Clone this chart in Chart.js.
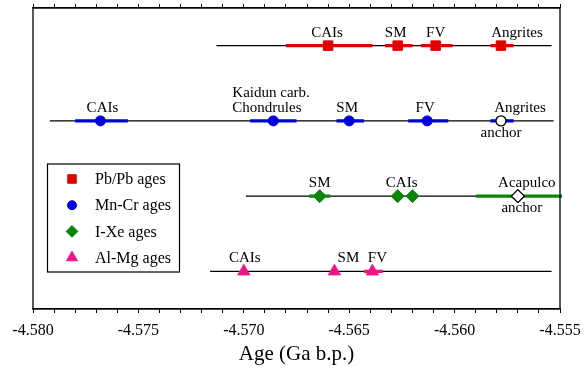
<!DOCTYPE html>
<html><head><meta charset="utf-8">
<script src="https://cdn.jsdelivr.net/npm/chart.js@4/dist/chart.umd.min.js"></script>
<style>html,body{margin:0;padding:0;background:#fff}#wrap{width:587px;height:369px}</style>
</head><body><div id="wrap"><canvas id="c" width="587" height="369"></canvas></div>
<script>
// ---------- data ----------
const seriesNames = ['Pb/Pb ages','Mn-Cr ages','I-Xe ages','Al-Mg ages'];
const rowCats = ['Pb/Pb','Mn-Cr','I-Xe','Al-Mg'];
const baseStart = [-4.5713,-4.5792,-4.5699,-4.5716];
const baseEnd   = [-4.5554,-4.5553,-4.5553,-4.5554];
const xMin = -4.580, xMax = -4.555, xMinorStep = 0.001;

const pbpbLabels = ['CAIs','SM','FV','Angrites'];
const pbpbAge    = [-4.5660,-4.5627,-4.5609,-4.5578];
const pbpbLow    = [-4.5680,-4.5633,-4.5616,-4.5583];
const pbpbHigh   = [-4.5639,-4.5620,-4.5601,-4.5572];
const pbpbAnchor = [false,false,false,false];

const mncrLabels = ['CAIs','Kaidun carb.\nChondrules','SM','FV','Angrites'];
const mncrAge    = [-4.5768,-4.5686,-4.5650,-4.5613,-4.5578];
const mncrLow    = [-4.5780,-4.5697,-4.5656,-4.5622,-4.5583];
const mncrHigh   = [-4.5755,-4.5675,-4.5643,-4.5603,-4.5572];
const mncrAnchor = [false,false,false,false,true];

const ixeLabels = ['SM','CAIs','','Acapulco'];
const ixeAge    = [-4.5664,-4.5627,-4.5620,-4.5570];
const ixeLow    = [-4.5669,null,null,-4.5590];
const ixeHigh   = [-4.5659,null,null,-4.5549];
const ixeAnchor = [false,false,false,true];

const almgLabels = ['CAIs','SM','FV'];
const almgAge    = [-4.5700,-4.5657,-4.5639];
const almgLow    = [null,null,-4.5643];
const almgHigh   = [null,null,-4.5634];
const almgAnchor = [false,false,false];

const anchorText = 'anchor';
const xTitle = 'Age (Ga b.p.)';

// ---------- styles ----------
const FONT = 'Liberation Serif';
const series = [
  {labels:pbpbLabels, age:pbpbAge, low:pbpbLow, high:pbpbHigh, anchor:pbpbAnchor},
  {labels:mncrLabels, age:mncrAge, low:mncrLow, high:mncrHigh, anchor:mncrAnchor},
  {labels:ixeLabels,  age:ixeAge,  low:ixeLow,  high:ixeHigh,  anchor:ixeAnchor},
  {labels:almgLabels, age:almgAge, low:almgLow, high:almgHigh, anchor:almgAnchor}
];
const styles = [
  {color:'#e00000', pointStyle:'rect',     radius:6.7, dx:[-1,-2,0,16],     align:null, anchorDx:0},
  {color:'#0000dd', pointStyle:'circle',   radius:5,   dx:[2,-41,-2,-2,19], align:['center','left','center','center','center'], anchorDx:0},
  {color:'#0a850a', pointStyle:'rectRot',  radius:6.5, dx:[0,4,0,9],        align:null, anchorDx:4},
  {color:'#f0138a', pointStyle:'triangle', radius:7,   dx:[1,14,5],         align:null, anchorDx:0}
];

// ---------- datasets ----------
const datasets = [];
series.forEach((s, i) => {
  const cat = rowCats[i], st = styles[i];
  datasets.push({
    data:[{x:baseStart[i], y:cat},{x:baseEnd[i], y:cat}],
    borderColor:'#000', borderWidth:1.3, pointRadius:0, showLine:true, order:3
  });
  s.age.forEach((a, j) => {
    if (s.low[j] === null) return;
    datasets.push({
      data:[{x:s.low[j], y:cat},{x:s.high[j], y:cat}],
      borderColor:st.color, borderWidth:3.3, pointRadius:0, showLine:true, order:2, clip:false
    });
  });
  datasets.push({
    label: seriesNames[i], seriesIndex:i, isMarker:true,
    data: s.age.map(a => ({x:a, y:cat})),
    showLine:false,
    pointStyle: st.pointStyle,
    pointRadius: st.radius,
    pointBackgroundColor: s.anchor.map(f => f ? '#ffffff' : st.color),
    pointBorderColor: s.anchor.map(f => f ? '#000000' : st.color),
    pointBorderWidth: s.anchor.map(f => f ? 1.4 : 1),
    order:0, clip:false
  });
});

// ---------- plugins ----------
const framePlugin = {
  id:'frame',
  afterDraw(chart){
    const {ctx, chartArea:a} = chart;
    ctx.save(); ctx.strokeStyle='#000'; ctx.lineWidth=1.3;
    ctx.strokeRect(a.left, a.top, a.right-a.left, a.bottom-a.top);
    ctx.restore();
  }
};
const labelPlugin = {
  id:'pointLabels',
  afterDatasetsDraw(chart){
    const ctx = chart.ctx;
    ctx.save();
    ctx.font = '15px "' + FONT + '"';
    ctx.fillStyle = '#000';
    ctx.textBaseline = 'alphabetic';
    chart.data.datasets.forEach((ds, di) => {
      if (!ds.isMarker) return;
      const s = series[ds.seriesIndex], st = styles[ds.seriesIndex];
      const meta = chart.getDatasetMeta(di);
      meta.data.forEach((pt, j) => {
        const txt = s.labels[j];
        const align = st.align ? st.align[j] : 'center';
        ctx.textAlign = align;
        if (txt) {
          const lines = txt.split('\n');
          lines.forEach((ln, k) => {
            const y = pt.y - 9 - (lines.length-1-k)*15;
            ctx.fillText(ln, pt.x + st.dx[j], y);
          });
        }
        if (s.anchor[j]) {
          ctx.textAlign = 'center';
          ctx.fillText(anchorText, pt.x + st.anchorDx, pt.y + 16);
        }
      });
    });
    ctx.restore();
  }
};
const legendPlugin = {
  id:'boxLegend',
  afterDraw(chart){
    const ctx = chart.ctx;
    const box = {x:47.5, y:164, w:132, h:108};
    ctx.save();
    ctx.fillStyle='#fff'; ctx.fillRect(box.x, box.y, box.w, box.h);
    ctx.strokeStyle='#000'; ctx.lineWidth=1.2; ctx.strokeRect(box.x, box.y, box.w, box.h);
    ctx.font = '16px "' + FONT + '"';
    ctx.textAlign='left'; ctx.textBaseline='middle';
    seriesNames.forEach((name, i) => {
      const st = styles[i];
      const y = box.y + 15 + i*26.2;
      ctx.fillStyle = st.color; ctx.strokeStyle = st.color; ctx.lineWidth = 1;
      Chart.helpers.drawPoint(ctx, {pointStyle:st.pointStyle, radius:st.radius*0.9, rotation:0, borderWidth:1}, box.x + 24.5, y);
      ctx.fillStyle='#000';
      ctx.fillText(name, box.x + 47.5, y + 1);
    });
    ctx.restore();
  }
};

new Chart(document.getElementById('c'), {
  type:'line',
  data:{datasets},
  options:{
    responsive:false, animation:false, devicePixelRatio:1,
    layout:{padding:{left:33, right:27, top:0, bottom:0}},
    plugins:{legend:{display:false}, tooltip:{enabled:false}},
    scales:{
      x:{
        type:'linear', position:'bottom', min:xMin, max:xMax,
        ticks:{stepSize:xMinorStep, autoSkip:false, maxRotation:0, padding:8, color:'#000',
          font:{family:FONT, size:16},
          callback:v => (Math.round(v*1000) % 5 === 0) ? v.toFixed(3) : ''},
        grid:{drawOnChartArea:false, tickLength:4, color:'#000', lineWidth:1},
        border:{color:'#000', width:1.3},
        title:{display:true, text:xTitle, color:'#000', font:{family:FONT, size:21}, padding:{top:0,bottom:2}},
        afterFit:s => { s.height = 60; s.paddingLeft = 0; s.paddingRight = 0; }
      },
      x2:{
        type:'linear', position:'top', min:xMin, max:xMax,
        ticks:{stepSize:xMinorStep, autoSkip:false, maxRotation:0, padding:0, callback:() => ''},
        grid:{drawOnChartArea:false, tickLength:4, color:'#000', lineWidth:1},
        border:{color:'#000', width:1.3},
        afterFit:s => { s.height = 8; s.paddingLeft = 0; s.paddingRight = 0; }
      },
      y:{type:'category', labels:rowCats, offset:true, display:false}
    }
  },
  plugins:[framePlugin, labelPlugin, legendPlugin]
});
</script></body></html>
